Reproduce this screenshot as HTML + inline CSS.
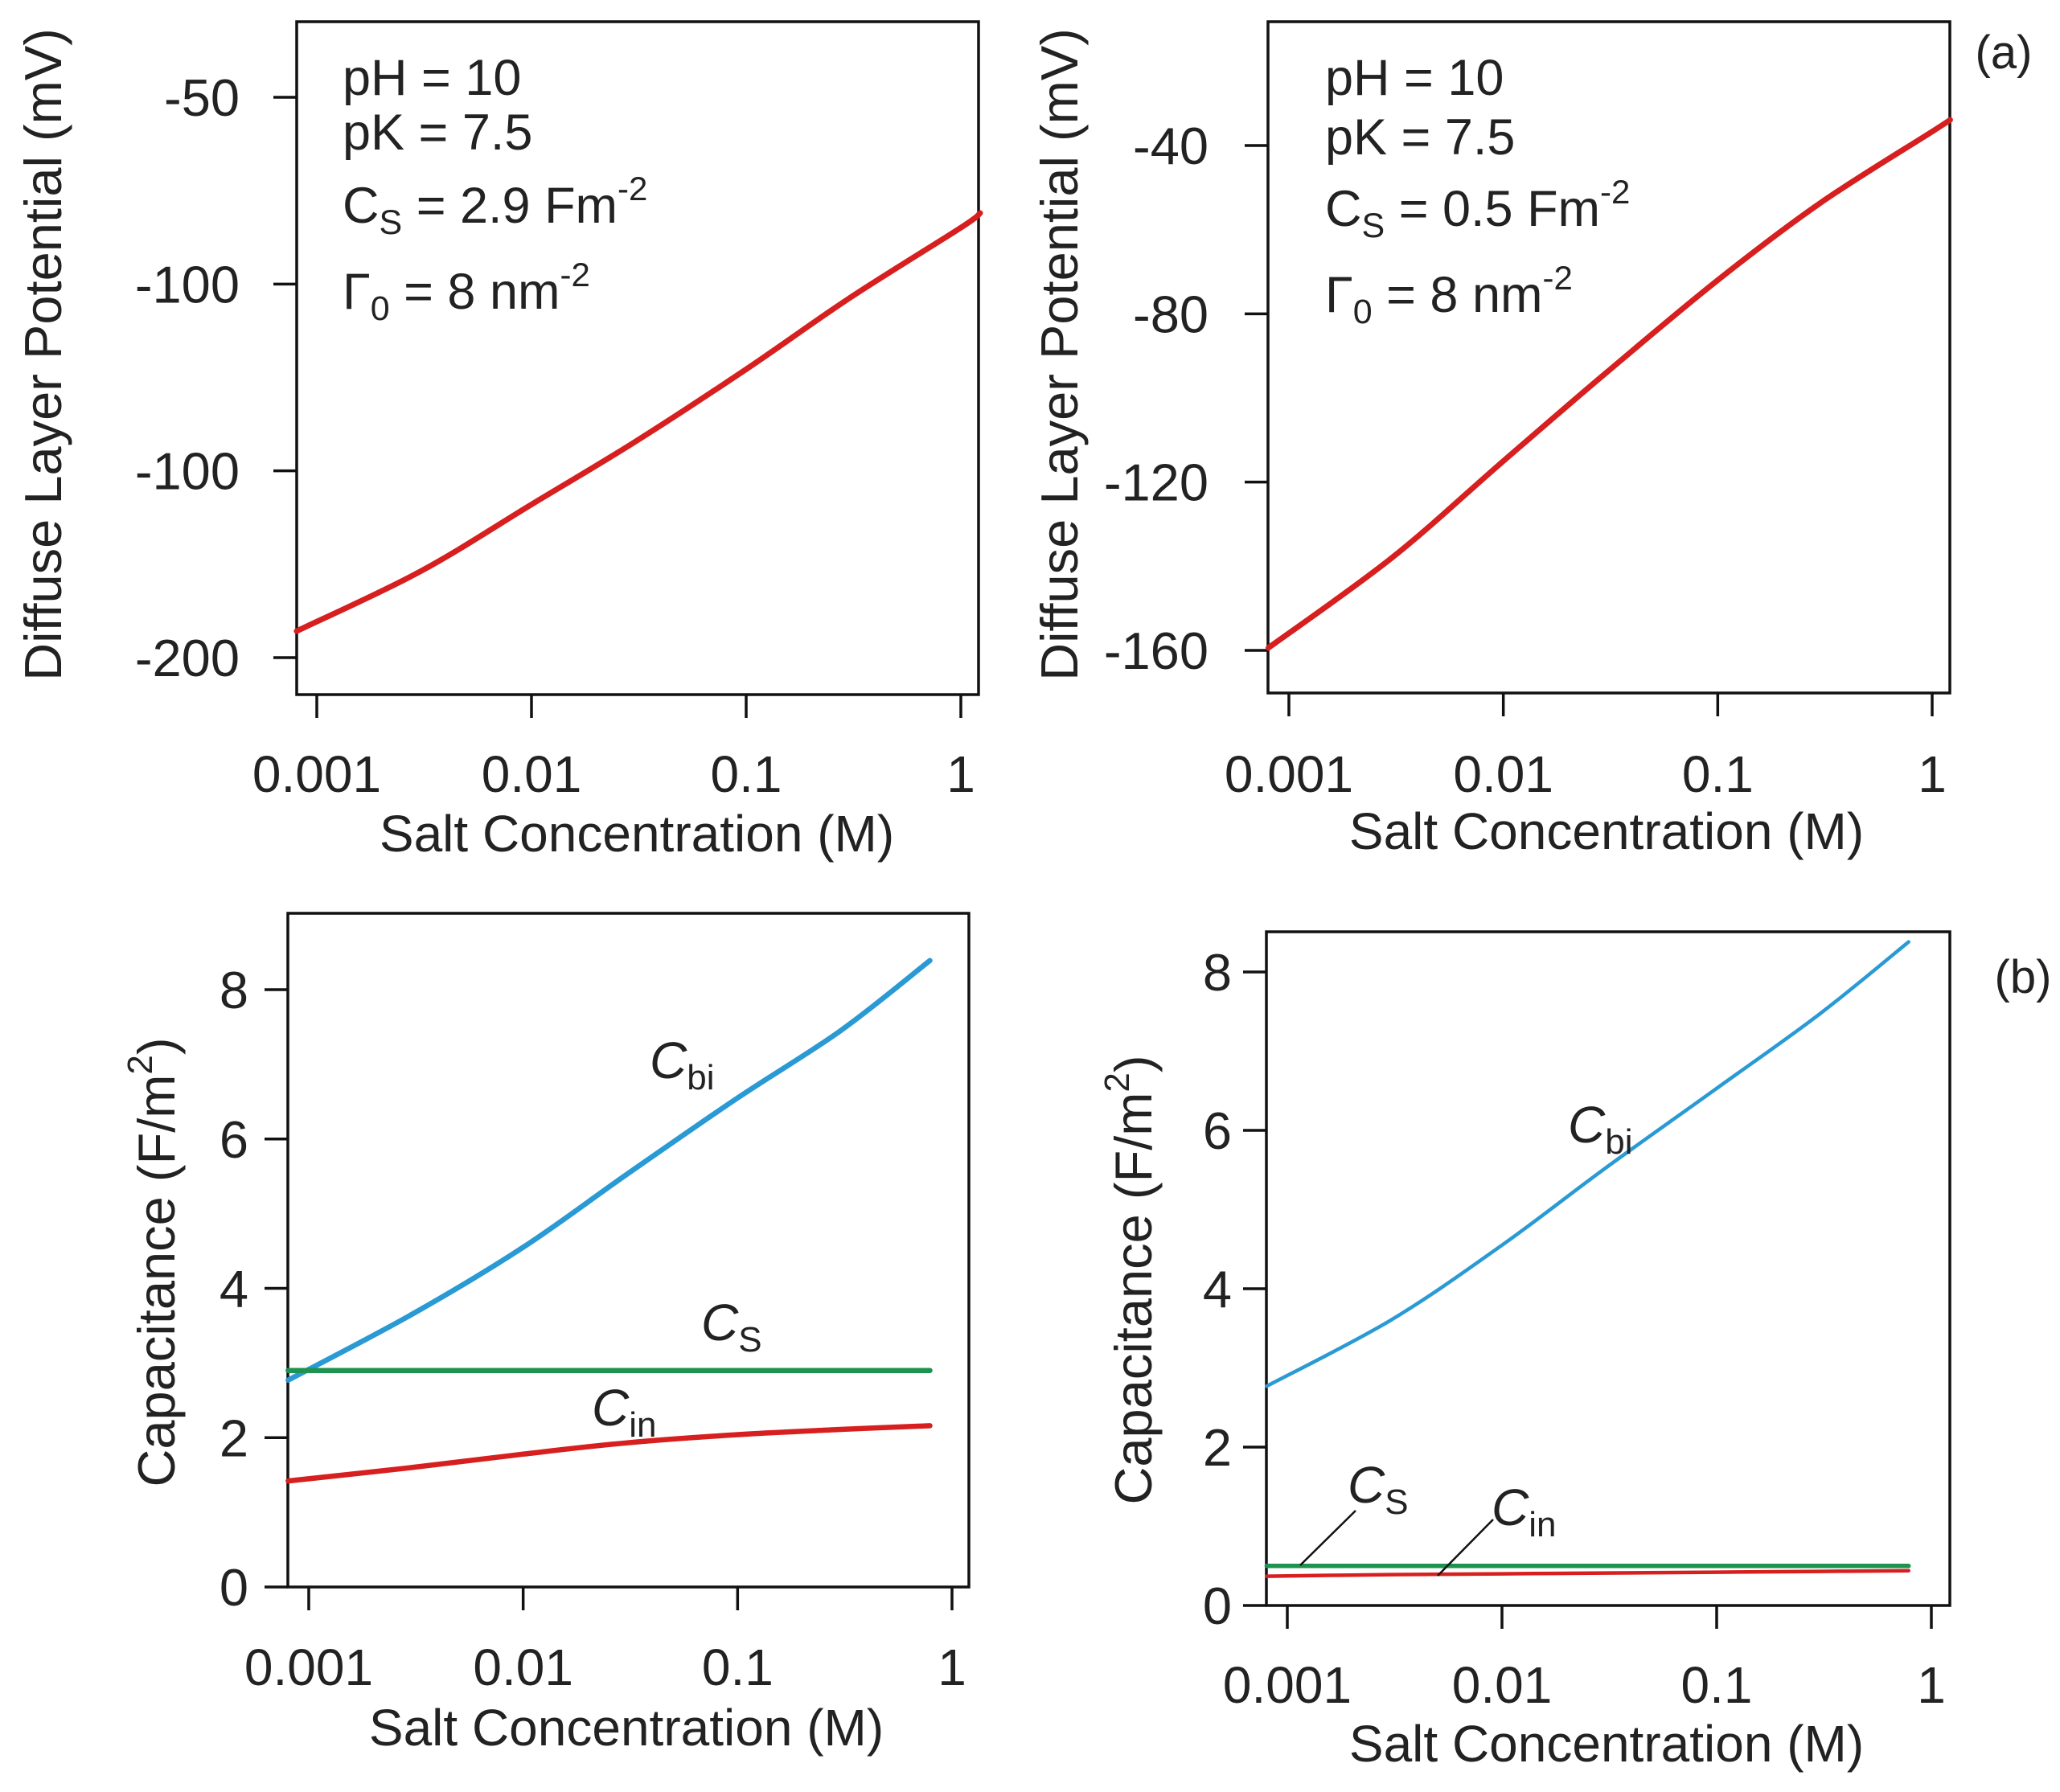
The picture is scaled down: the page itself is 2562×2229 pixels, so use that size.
<!DOCTYPE html>
<html><head><meta charset="utf-8"><style>
body{margin:0;background:#fff}
svg{display:block;font-family:"Liberation Sans",Arial,sans-serif}
</style></head><body>
<svg id="fig" width="2562" height="2229" viewBox="0 0 2562 2229" xmlns="http://www.w3.org/2000/svg"></svg>
<script>
// ---- data (log10 of salt concentration in M) ----
const xTickVals = [-3, -2, -1, 0];
const xTickLabels = ["0.001", "0.01", "0.1", "1"];
// Panel a-left: diffuse layer potential, Cs=2.9
const aLeftX = [-3.094, -2.52, -2, -1.52, -1, -0.52, 0, 0.09];
const aLeftY = [-192.9, -177, -159, -142.3, -122.8, -103.8, -84.9, -81];
const aLeftTickVals = [-50, -100, -150, -200];
const aLeftTickLabels = ["-50", "-100", "-100", "-200"];
// Panel a-right: Cs=0.5
const aRightX = [-3.096, -2.52, -2, -1.52, -1, -0.52, 0, 0.084];
const aRightY = [-159.4, -138, -115, -94, -72, -53.6, -36.7, -33.9];
const aRightTickVals = [-40, -80, -120, -160];
const aRightTickLabels = ["-40", "-80", "-120", "-160"];
// Panel b-left: capacitances
const bLeftX = [-3.096, -2.52, -2, -1.52, -1, -0.52, -0.103];
const bLeftCbi = [2.77, 3.65, 4.55, 5.52, 6.55, 7.45, 8.39];
const bLeftCs = [2.9, 2.9, 2.9, 2.9, 2.9, 2.9, 2.9];
const bLeftCin = [1.42, 1.60, 1.78, 1.93, 2.04, 2.11, 2.16];
// Panel b-right
const bRightX = [-3.096, -2.52, -2, -1.52, -1, -0.52, -0.106];
const bRightCbi = [2.77, 3.60, 4.55, 5.52, 6.53, 7.47, 8.38];
const bRightCs = [0.5, 0.5, 0.5, 0.5, 0.5, 0.5, 0.5];
const bRightCin = [0.37, 0.39, 0.40, 0.41, 0.42, 0.43, 0.44];
const capTickVals = [0, 2, 4, 6, 8];
const capTickLabels = ["0", "2", "4", "6", "8"];

const NS = "http://www.w3.org/2000/svg";
const svg = document.getElementById("fig");
function mk(tag, attrs, parent) {
  const e = document.createElementNS(NS, tag);
  for (const k in attrs) e.setAttribute(k, attrs[k]);
  (parent || svg).appendChild(e);
  return e;
}
function smoothPath(pts) {
  let d = "M" + pts[0][0].toFixed(1) + "," + pts[0][1].toFixed(1);
  for (let i = 0; i < pts.length - 1; i++) {
    const p0 = pts[i - 1] || pts[i], p1 = pts[i], p2 = pts[i + 1], p3 = pts[i + 2] || p2;
    const c1 = [p1[0] + (p2[0] - p0[0]) / 6, p1[1] + (p2[1] - p0[1]) / 6];
    const c2 = [p2[0] - (p3[0] - p1[0]) / 6, p2[1] - (p3[1] - p1[1]) / 6];
    d += " C" + c1.map(v => v.toFixed(1)).join(",") + " " + c2.map(v => v.toFixed(1)).join(",") + " " + p2[0].toFixed(1) + "," + p2[1].toFixed(1);
  }
  return d;
}

function panel(cfg) {
  const g = mk("g", {});
  
  
  const xs = v => cfg.x0 + (v - (-3)) * (cfg.x1 - cfg.x0) / 3;
  const ys = v => cfg.yA + (v - cfg.vA) * (cfg.yB - cfg.yA) / (cfg.vB - cfg.vA);
  const fr = mk("rect", {x: cfg.L, y: cfg.T, width: cfg.R - cfg.L, height: cfg.B - cfg.T, fill: "none", stroke: "#111", "stroke-width": 3.5}, g);
  
  
  xTickVals.forEach((v, i) => {
    const x = xs(v);
    const t = mk("line", {x1: x, x2: x, y1: cfg.B, y2: cfg.B + 29, stroke: "#111", "stroke-width": 3.5}, g);
    
    
    const l = mk("text", {x: x, y: cfg.xLabY, "font-size": 64, "text-anchor": "middle", fill: "#222"}, g);
    l.textContent = xTickLabels[i];
    
    
  });
  cfg.yTicks.forEach((v, i) => {
    const y = ys(v);
    const t = mk("line", {x1: cfg.L - 29, x2: cfg.L, y1: y, y2: y, stroke: "#111", "stroke-width": 3.5}, g);
    
    
    const l = mk("text", {x: cfg.yLabX, y: y + 23, "font-size": 65, "text-anchor": "end", fill: "#222"}, g);
    l.textContent = cfg.yLabels[i];
    
    
  });
  const xt = mk("text", {x: cfg.xTitleX, y: cfg.xTitleY, "font-size": 64, "text-anchor": "middle", fill: "#222"}, g);
  xt.textContent = "Salt Concentration (M)";
  
  
  const yt = mk("text", {x: 0, y: 0, "font-size": 65, "text-anchor": "middle", fill: "#222", transform: "translate(" + cfg.yTitleX + "," + cfg.yTitleY + ") rotate(-90)"}, g);
  yt.innerHTML = cfg.yTitle;
  
  
  cfg.series.forEach(s => {
    const pts = s.x.map((xv, i) => [xs(xv), ys(s.y[i])]);
    const p = mk("path", {d: smoothPath(pts), fill: "none", stroke: s.color, "stroke-width": s.w, "stroke-linecap": "round"}, g);
    
    
  });
  return g;
}

const potTitle = "Diffuse Layer Potential (mV)";
const capTitle = 'Capacitance (F/m<tspan dy="-28" font-size="44">2</tspan><tspan dy="28">)</tspan>';

panel({name: "panel-a-left", L: 369, R: 1217, T: 27, B: 864, x0: 394, x1: 1195,
  yA: 121, vA: -50, yB: 818, vB: -200, yTicks: aLeftTickVals, yLabels: aLeftTickLabels,
  yLabX: 298, xLabY: 985, xTitleX: 792, xTitleY: 1059, yTitleX: 76, yTitleY: 441, yTitle: potTitle,
  series: [{name: "potential-line", x: aLeftX, y: aLeftY, color: "#d81f1f", w: 7}]});
panel({name: "panel-a-right", L: 1577, R: 2425, T: 27, B: 862, x0: 1603, x1: 2403,
  yA: 181, vA: -40, yB: 809, vB: -160, yTicks: aRightTickVals, yLabels: aRightTickLabels,
  yLabX: 1503, xLabY: 985, xTitleX: 1998, xTitleY: 1056, yTitleX: 1340, yTitleY: 441, yTitle: potTitle,
  series: [{name: "potential-line", x: aRightX, y: aRightY, color: "#d81f1f", w: 7}]});
panel({name: "panel-b-left", L: 358, R: 1205, T: 1136, B: 1974, x0: 384, x1: 1184,
  yA: 1974, vA: 0, yB: 1231, vB: 8, yTicks: capTickVals, yLabels: capTickLabels,
  yLabX: 309, xLabY: 2096, xTitleX: 779, xTitleY: 2171, yTitleX: 217, yTitleY: 1570, yTitle: capTitle,
  series: [{name: "cbi-line", x: bLeftX, y: bLeftCbi, color: "#2a9ad4", w: 6.5},
           {name: "cs-line", x: bLeftX, y: bLeftCs, color: "#1e9350", w: 6.5},
           {name: "cin-line", x: bLeftX, y: bLeftCin, color: "#d81f1f", w: 6.5}]});
panel({name: "panel-b-right", L: 1575, R: 2425, T: 1159, B: 1997, x0: 1601, x1: 2402,
  yA: 1997, vA: 0, yB: 1209, vB: 8, yTicks: capTickVals, yLabels: capTickLabels,
  yLabX: 1532, xLabY: 2118, xTitleX: 1998, xTitleY: 2191, yTitleX: 1432, yTitleY: 1592, yTitle: capTitle,
  series: [{name: "cbi-line", x: bRightX, y: bRightCbi, color: "#2a9ad4", w: 4.5},
           {name: "cs-line", x: bRightX, y: bRightCs, color: "#1e9350", w: 5.5},
           {name: "cin-line", x: bRightX, y: bRightCin, color: "#d81f1f", w: 4.5}]});

function txt(x, y, html, size, name, extra) {
  const t = mk("text", Object.assign({x: x, y: y, "font-size": size, fill: "#222"}, extra || {}));
  t.innerHTML = html;
  
  
  return t;
}
function params(x, cs, ys) {
  txt(x, ys[0], "pH = 10", 63, "ph-annotation");
  txt(x, ys[1], "pK = 7.5", 63, "pk-annotation");
  txt(x, ys[2], 'C<tspan dy="14" font-size="43">S</tspan><tspan dy="-14"> = ' + cs + ' Fm</tspan><tspan dy="-28" font-size="42">-2</tspan>', 63, "cs-annotation");
  txt(x, ys[3], 'Γ<tspan dy="14" font-size="43">0</tspan><tspan dy="-14"> = 8 nm</tspan><tspan dy="-28" font-size="42">-2</tspan>', 63, "gamma-annotation");
}
params(426, "2.9", [118, 186, 277, 384]);
params(1648, "0.5", [118, 192, 281, 388]);
txt(2492, 85, "(a)", 58, "panel-label-a", {"text-anchor": "middle"});
txt(2516, 1235, "(b)", 58, "panel-label-b", {"text-anchor": "middle"});

function clabel(x, y, sub, name) {
  txt(x, y, '<tspan font-style="italic">C</tspan><tspan dy="14" font-size="44">' + sub + '</tspan>', 64, name);
}
clabel(808, 1341, "bi", "cbi-label");
clabel(872, 1667, "S", "cs-label");
clabel(736, 1773, "in", "cin-label");
clabel(1950, 1421, "bi", "cbi-label");
clabel(1676, 1869, "S", "cs-label");
clabel(1855, 1897, "in", "cin-label");
const l1 = mk("line", {x1: 1686, y1: 1879, x2: 1617, y2: 1947, stroke: "#111", "stroke-width": 2.5});


const l2 = mk("line", {x1: 1857, y1: 1890, x2: 1788, y2: 1960, stroke: "#111", "stroke-width": 2.5});


</script>
</body></html>
